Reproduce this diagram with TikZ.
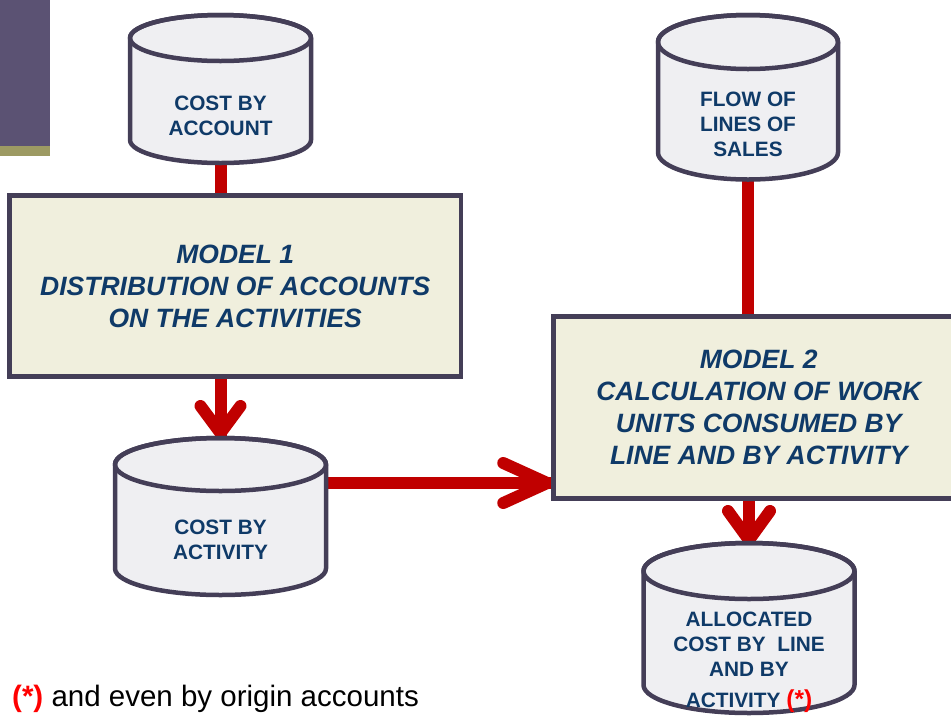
\documentclass[tikz,border=0pt]{standalone}
\usepackage{fontspec}
\setmainfont{Liberation Sans}
\usetikzlibrary{calc,backgrounds}

\definecolor{navy}{HTML}{0F3A68}
\definecolor{frame}{HTML}{443E57}
\definecolor{drumfill}{HTML}{EFEFF2}
\definecolor{boxfill}{HTML}{F0EFDD}
\definecolor{flowred}{HTML}{C00000}
\definecolor{starred}{HTML}{FF0000}
\definecolor{bandpurple}{HTML}{5B5273}
\definecolor{bandolive}{HTML}{9D9A63}

% drum{name}{cx}{y of top ellipse}{y of bottom ellipse}{rx}{ry}
\newcommand\drum[6]{%
  \path[drumshape] (#2-#5,#3) -- (#2-#5,#4)
    arc[start angle=180,end angle=360,x radius=#5,y radius=#6]
    -- (#2+#5,#3)
    arc[start angle=0,end angle=180,x radius=#5,y radius=#6] -- cycle;
  \draw[drumshape,fill=none] (#2,#3) ellipse[x radius=#5,y radius=#6];
  \coordinate (#1-top) at (#2,#3+#6);
  \coordinate (#1-bot) at (#2,#4-#6);
}

\tikzset{
  drumshape/.style={draw=frame,fill=drumfill,line width=4.5pt,line join=round},
  drumtext/.style={align=center,text=navy,inner sep=0pt,
    font=\fontsize{20.8}{25}\selectfont\bfseries},
  modelbox/.style={draw=frame,fill=boxfill,line width=4.5pt,inner sep=0pt,
    align=center,text=navy,font=\fontsize{26.5}{32}\selectfont\bfseries\itshape},
  flow/.style={draw=flowred,line width=12pt},
  head/.style={draw=flowred,line width=12pt,line cap=round,line join=round},
}

\begin{document}
\begin{tikzpicture}[x=1pt,y=1pt]
\clip (0,0) rectangle (951,-716);

% corner band
\fill[bandpurple] (0,0) rectangle (50,-146);
\fill[bandolive] (0,-146) rectangle (50,-156);

% process boxes
\node[modelbox,minimum width=451.5pt,minimum height=181pt] (m1) at (235.25,-286)
  {MODEL 1\\DISTRIBUTION OF ACCOUNTS\\ON THE ACTIVITIES};
\node[modelbox,minimum width=410.5pt,minimum height=182pt] (m2) at (758.75,-407.5)
  {MODEL 2\\CALCULATION OF WORK\\UNITS CONSUMED BY\\LINE AND BY ACTIVITY};

% data stores
\drum{acct}{220.5}{-38}{-140}{90.5}{23}
\node[drumtext] (acct-txt) at (220.5,-115.5) {COST BY\\ACCOUNT};

\drum{act}{220.5}{-464.5}{-568.5}{105.5}{26.5}
\node[drumtext] (act-txt) at (220.5,-539.5) {COST BY\\ACTIVITY};
\coordinate (act-out) at (326,-483);

\drum{sales}{748}{-42}{-152.5}{90}{27}
\node[drumtext] (sales-txt) at (748,-124.5) {FLOW OF\\LINES OF\\SALES};

\drum{alloc}{749}{-571}{-685}{105.5}{28}
\node[drumtext] (alloc-txt) at (749,-662)
  {ALLOCATED\\COST BY~ LINE\\AND BY\\[6pt]ACTIVITY
   \textcolor{starred}{\fontsize{24.5}{25}\selectfont(*)}};

% flows, kept under the shapes
\begin{scope}[on background layer]
  \draw[flow] (acct-bot) -- (acct-bot |- m1.north);
  \draw[flow] (sales-bot) -- (sales-bot |- m2.north);

  \draw[flow] (m1.south -| act-top) -- (act-top);
  \draw[head] ($(act-top)+(-20,32)$) -- ($(act-top)+(0,5)$) -- ($(act-top)+(20,32)$);

  \draw[flow] (m2.south -| alloc-top) -- (alloc-top);
  \draw[head] ($(alloc-top)+(-21,32)$) -- ($(alloc-top)+(0,3)$) -- ($(alloc-top)+(21,32)$);

  \draw[flow] (act-out) -- (act-out -| m2.west);
  \coordinate (tipB) at ($(act-out -| m2.west)+(-4,0)$);
  \draw[head] ($(tipB)+(-44,20)$) -- (tipB) -- ($(tipB)+(-44,-20)$);
\end{scope}

% footnote
\node[anchor=base west,inner sep=0pt,font=\fontsize{29.5}{34}\selectfont] (note) at (12,-706)
  {\textcolor{starred}{\bfseries(*)} and even by origin accounts};
\end{tikzpicture}
\end{document}
